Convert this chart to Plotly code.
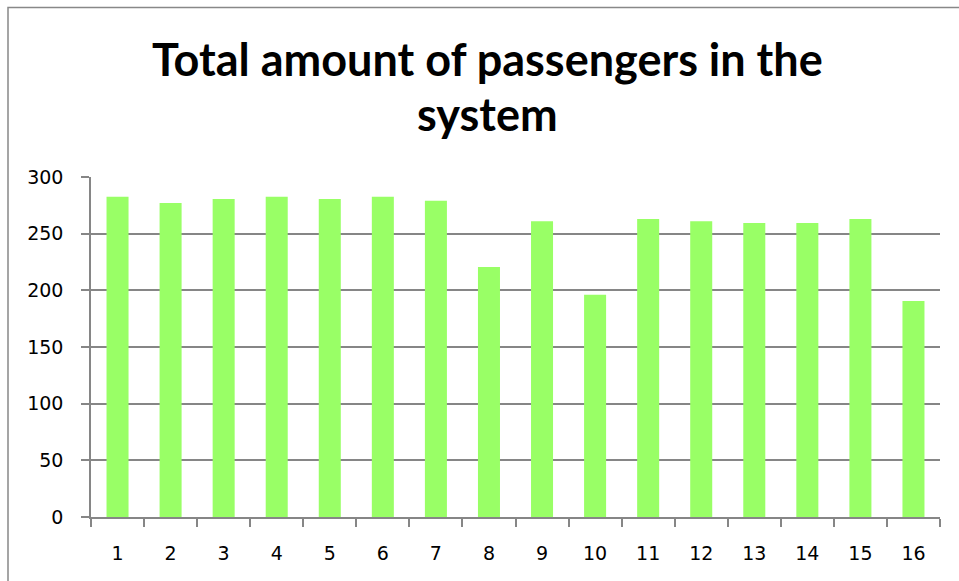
import plotly.graph_objects as go

categories = [str(i) for i in range(1, 17)]
passengers = [282.5, 277, 280.5, 282.5, 280.5, 282.5, 279, 220.5,
              261, 196, 263, 261, 259.5, 259.5, 263, 190.5]
y_ticks = [0, 50, 100, 150, 200, 250, 300]

title_line1 = "Total amount of passengers in the"
title_line2 = "system"

fig = go.Figure()
fig.add_trace(go.Bar(
    x=categories, y=passengers,
    marker=dict(color="#99FF66", line=dict(width=0)),
))

W, H = 959, 581
L, R, T, B = 91, 19, 177, 64
pw, ph = W - L - R, H - T - B

def px_x(x):
    return (x - L) / pw

def px_y(y):
    return (H - B - y) / ph

title_font = dict(family="Lato", size=45, color="#000000", weight="bold")
tick_font = dict(family="DejaVu Sans", size=19, color="#000000")

fig.update_layout(
    width=W, height=H,
    margin=dict(l=L, r=R, t=T, b=B, pad=0),
    paper_bgcolor="white", plot_bgcolor="white",
    bargap=0.585,
    showlegend=False,
    font=dict(family="DejaVu Sans", size=19, color="#000000"),
    xaxis=dict(
        type="category", range=[-0.5, 15.5],
        tickson="boundaries", ticks="outside", ticklen=8, tickwidth=1.5,
        tickcolor="#868686", showgrid=False,
        showline=True, linecolor="#868686", linewidth=1.5,
        tickfont=tick_font, ticklabelstandoff=18,
        fixedrange=True,
    ),
    yaxis=dict(
        range=[0, 300], tickvals=y_ticks,
        ticks="outside", ticklen=8, tickwidth=1.5, tickcolor="#868686",
        showgrid=True, gridcolor="#868686", gridwidth=1.5,
        showline=True, linecolor="#868686", linewidth=1.5,
        zeroline=False,
        tickfont=tick_font, ticklabelstandoff=14,
        fixedrange=True,
    ),
    annotations=[
        dict(text=title_line1, xref="paper", yref="paper",
             x=px_x(487.5), y=px_y(59.5), xanchor="center", yanchor="middle",
             showarrow=False, font=title_font),
        dict(text=title_line2, xref="paper", yref="paper",
             x=px_x(487.5), y=px_y(114), xanchor="center", yanchor="middle",
             showarrow=False, font=title_font),
    ],
    shapes=[dict(
        type="rect", xref="paper", yref="paper",
        x0=px_x(8), x1=px_x(990), y0=px_y(620), y1=px_y(7.5),
        line=dict(color="#888888", width=1.5), layer="below",
    )],
)

fig.write_html("out.html")
